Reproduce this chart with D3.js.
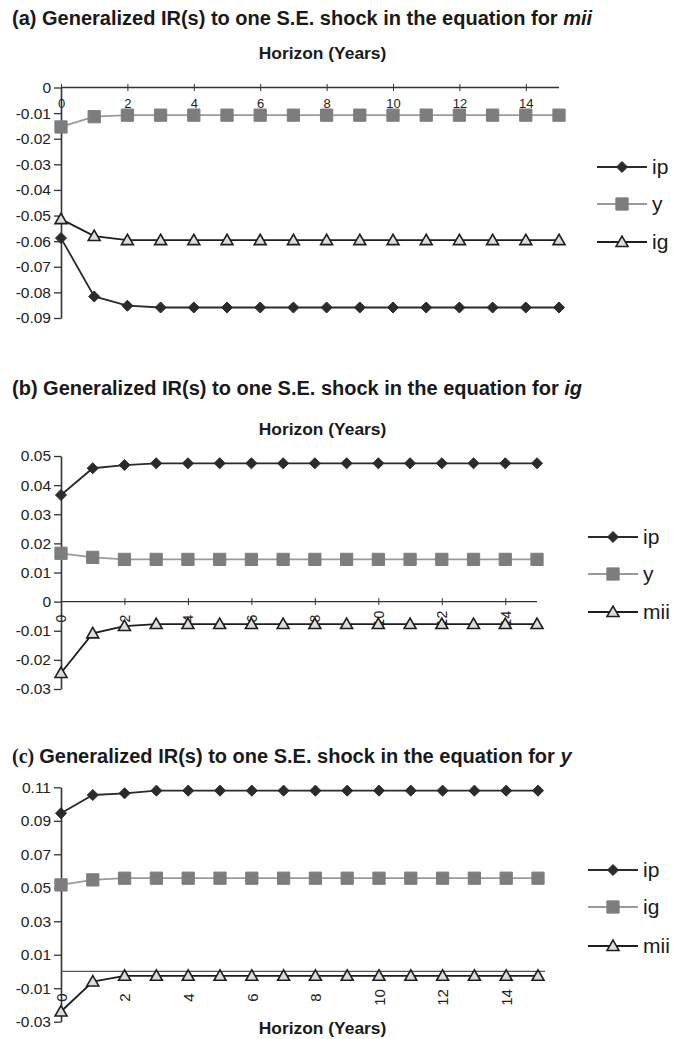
<!DOCTYPE html>
<html>
<head>
<meta charset="utf-8">
<script src="https://cdn.jsdelivr.net/npm/d3@7"></script>
<style>
  body { margin: 0; background: #fff; }
  text { font-family: "Liberation Sans", Arial, sans-serif; }
</style>
</head>
<body>
<div id="chart"></div>
<script>
// horizon (years)
const horizon = [0, 1, 2, 3, 4, 5, 6, 7, 8, 9, 10, 11, 12, 13, 14, 15];

// (a) shock in mii
const aIp = [-0.0588, -0.0816, -0.0852, -0.0859, -0.0859, -0.0859, -0.0859, -0.0859, -0.0859, -0.0859, -0.0859, -0.0859, -0.0859, -0.0859, -0.0859, -0.0859];
const aY  = [-0.0154, -0.0114, -0.0108, -0.0108, -0.0108, -0.0108, -0.0108, -0.0108, -0.0108, -0.0108, -0.0108, -0.0108, -0.0108, -0.0108, -0.0108, -0.0108];
const aIg = [-0.0514, -0.0580, -0.0596, -0.0596, -0.0596, -0.0596, -0.0596, -0.0596, -0.0596, -0.0596, -0.0596, -0.0596, -0.0596, -0.0596, -0.0596, -0.0596];
const aTicksY = [0, -0.01, -0.02, -0.03, -0.04, -0.05, -0.06, -0.07, -0.08, -0.09];

// (b) shock in ig
const bIp  = [0.0366, 0.0458, 0.0469, 0.0475, 0.0475, 0.0475, 0.0475, 0.0475, 0.0475, 0.0475, 0.0475, 0.0475, 0.0475, 0.0475, 0.0475, 0.0475];
const bY   = [0.0166, 0.0152, 0.0145, 0.0145, 0.0145, 0.0145, 0.0145, 0.0145, 0.0145, 0.0145, 0.0145, 0.0145, 0.0145, 0.0145, 0.0145, 0.0145];
const bMii = [-0.0245, -0.0109, -0.0084, -0.0077, -0.0077, -0.0077, -0.0077, -0.0077, -0.0077, -0.0077, -0.0077, -0.0077, -0.0077, -0.0077, -0.0077, -0.0077];
const bTicksY = [0.05, 0.04, 0.03, 0.02, 0.01, 0, -0.01, -0.02, -0.03];

// (c) shock in y
const cIp  = [0.0945, 0.1054, 0.1064, 0.1080, 0.1080, 0.1080, 0.1080, 0.1080, 0.1080, 0.1080, 0.1080, 0.1080, 0.1080, 0.1080, 0.1080, 0.1080];
const cIg  = [0.0517, 0.0547, 0.0557, 0.0557, 0.0557, 0.0557, 0.0557, 0.0557, 0.0557, 0.0557, 0.0557, 0.0557, 0.0557, 0.0557, 0.0557, 0.0557];
const cMii = [-0.0239, -0.0060, -0.0026, -0.0026, -0.0026, -0.0026, -0.0026, -0.0026, -0.0026, -0.0026, -0.0026, -0.0026, -0.0026, -0.0026, -0.0026, -0.0026];
const cTicksY = [0.11, 0.09, 0.07, 0.05, 0.03, 0.01, -0.01, -0.03];

const xTicks = [0, 2, 4, 6, 8, 10, 12, 14];

// marker styles
const styles = {
  diamond:  { line: "#2b2b2b", fill: "#2b2b2b", stroke: "#2b2b2b", sym: d3.symbolDiamond2, size: 78 },
  square:   { line: "#9a9a9a", fill: "#7d7d7f", stroke: "#7d7d7f", sym: d3.symbolSquare, size: 150 },
  triangle: { line: "#1e1e1e", fill: "#dcdcdc", stroke: "#1e1e1e", sym: d3.symbolTriangle, size: 62 }
};

const svg = d3.select("#chart").append("svg")
  .attr("width", 676)
  .attr("height", 1039);

function drawPanel(p) {
  const x = d3.scaleLinear().domain([0, 15]).range([61, p.xEnd]);
  const y = d3.scaleLinear().domain(p.yDomain).range(p.yRange);
  const g = svg.append("g");

  // title
  const t = g.append("text")
    .attr("x", 12).attr("y", p.titleY)
    .attr("font-size", "20px").attr("font-weight", "700").attr("fill", "#1a1a1a");
  t.append("tspan").attr("font-family", p.serifTag ? "Liberation Serif" : null).text(p.tag + " ");
  t.append("tspan").text("Generalized IR(s) to one S.E. shock in the equation for ");
  t.append("tspan").attr("font-style", "italic").text(p.shock);

  g.append("text")
    .attr("x", 322.5).attr("y", p.horizonY)
    .attr("text-anchor", "middle")
    .attr("font-size", "17.4px").attr("font-weight", "700").attr("fill", "#1a1a1a")
    .text("Horizon (Years)");

  // y axis
  const yAxis = g.append("g")
    .attr("transform", "translate(61,0)")
    .call(d3.axisLeft(y).tickValues(p.yTicks).tickSize(7).tickSizeOuter(0)
      .tickFormat(d => String(+d.toFixed(2))));
  yAxis.select(".domain").attr("stroke", "#333").attr("stroke-width", 1.6);
  yAxis.selectAll(".tick line").attr("stroke", "#333").attr("stroke-width", 1.3);
  yAxis.selectAll(".tick text").attr("font-size", "15.5px").attr("fill", "#222")
    .attr("font-family", "Liberation Sans, Arial, sans-serif").attr("x", -10);

  // x axis at zero
  const y0 = y(0);
  const xAxis = g.append("g")
    .attr("transform", `translate(0,${y0})`)
    .call(d3.axisBottom(x).tickValues(xTicks).tickSize(p.xTickSize).tickSizeOuter(0).tickFormat(d3.format("d")));
  xAxis.select(".domain").attr("stroke", p.xAxisColor).attr("stroke-width", 1.3)
    .attr("d", `M61,0H${p.xAxisEnd}`);
  xAxis.selectAll(".tick line").attr("stroke", "#333").attr("y1", -p.xTickSize / 2).attr("y2", p.xTickSize / 2);
  const xt = xAxis.selectAll(".tick text")
    .attr("font-size", p.xFont).attr("fill", "#222")
    .attr("font-family", "Liberation Sans, Arial, sans-serif");
  if (p.rotate) {
    xt.attr("y", null).attr("dy", "0.35em")
      .attr("text-anchor", "middle")
      .attr("transform", `translate(0,${p.labelOffset}) rotate(-90)`);
  } else {
    xt.attr("y", 11).attr("dy", "0.71em");
  }

  // series
  p.series.forEach(s => {
    const st = styles[s.marker];
    const line = d3.line().x((d, i) => x(horizon[i])).y(d => y(d));
    g.append("path").datum(s.values)
      .attr("d", line).attr("fill", "none")
      .attr("stroke", st.line).attr("stroke-width", 1.8);
    const sym = d3.symbol().type(st.sym).size(st.size);
    g.selectAll(null).data(s.values).enter().append("path")
      .attr("d", sym)
      .attr("transform", (d, i) => `translate(${x(horizon[i])},${y(d) + (s.marker === "triangle" ? 1 : 0)})`)
      .attr("fill", st.fill).attr("stroke", st.stroke).attr("stroke-width", s.marker === "triangle" ? 1.6 : 1);
  });

  // legend
  p.series.forEach((s, i) => {
    const st = styles[s.marker];
    const ly = p.legendY[i];
    g.append("line").attr("x1", p.legX).attr("x2", p.legX + 50).attr("y1", ly).attr("y2", ly)
      .attr("stroke", st.line).attr("stroke-width", 1.8);
    g.append("path").attr("d", d3.symbol().type(st.sym).size(st.size)())
      .attr("transform", `translate(${p.legX + 25},${ly + (s.marker === "triangle" ? 1 : 0)})`)
      .attr("fill", st.fill).attr("stroke", st.stroke).attr("stroke-width", s.marker === "triangle" ? 1.6 : 1);
    g.append("text").attr("x", p.legX + 55).attr("y", ly).attr("dy", "0.35em")
      .attr("font-size", "21px").attr("fill", "#1a1a1a").text(s.name);
  });
}

drawPanel({
  tag: "(a)", shock: "mii", titleY: 25, horizonY: 59,
  xEnd: 559, xAxisEnd: 559, yDomain: [-0.09, 0], yRange: [318, 87.5], yTicks: aTicksY,
  xTickSize: 7, xAxisColor: "#333", rotate: false, xFont: "13px",
  legX: 597, legendY: [167, 204, 242],
  series: [
    { name: "ip", values: aIp, marker: "diamond" },
    { name: "y", values: aY, marker: "square" },
    { name: "ig", values: aIg, marker: "triangle" }
  ]
});

drawPanel({
  tag: "(b)", shock: "ig", titleY: 395, horizonY: 435,
  xEnd: 537, xAxisEnd: 537, yDomain: [-0.03, 0.05], yRange: [689, 456], yTicks: bTicksY,
  xTickSize: 7, xAxisColor: "#333", rotate: true, labelOffset: 17, xFont: "14px",
  legX: 588, legendY: [537, 574, 612],
  series: [
    { name: "ip", values: bIp, marker: "diamond" },
    { name: "y", values: bY, marker: "square" },
    { name: "mii", values: bMii, marker: "triangle" }
  ]
});

drawPanel({
  tag: "(c)", shock: "y", serifTag: true, titleY: 763, horizonY: 1034,
  xEnd: 538, xAxisEnd: 545, yDomain: [-0.03, 0.11], yRange: [1021.7, 787.3], yTicks: cTicksY,
  xTickSize: 0, xAxisColor: "#555", rotate: true, labelOffset: 26, xFont: "15px",
  legX: 588, legendY: [870, 907, 946],
  series: [
    { name: "ip", values: cIp, marker: "diamond" },
    { name: "ig", values: cIg, marker: "square" },
    { name: "mii", values: cMii, marker: "triangle" }
  ]
});
</script>
</body>
</html>
